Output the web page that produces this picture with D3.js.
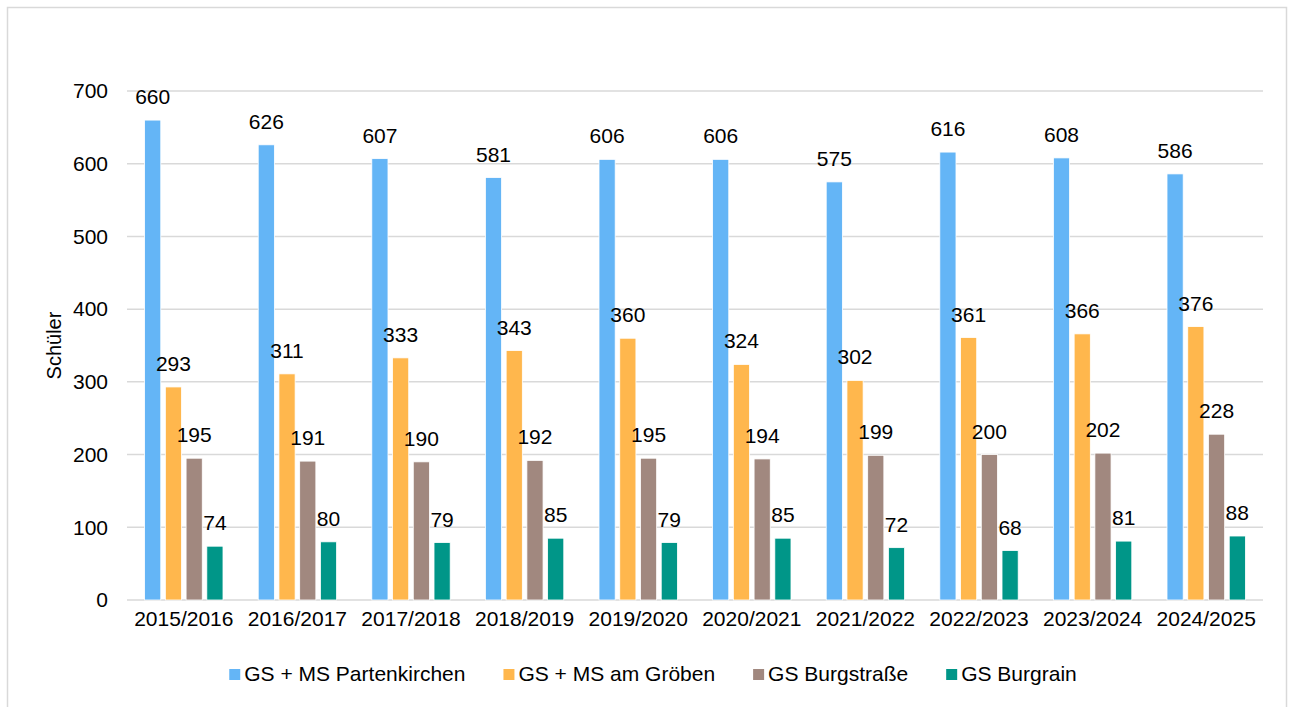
<!DOCTYPE html>
<html><head><meta charset="utf-8">
<script src="https://cdn.jsdelivr.net/npm/d3@7"></script>
<style>body{margin:0;background:#fff}svg{display:block;font-family:"Liberation Sans",Arial,sans-serif}</style>
</head><body>
<svg id="c" width="1293" height="707"></svg>
<script>
const categories = ["2015/2016","2016/2017","2017/2018","2018/2019","2019/2020","2020/2021","2021/2022","2022/2023","2023/2024","2024/2025"];
const seriesNames = ["GS + MS Partenkirchen","GS + MS am Gröben","GS Burgstraße","GS Burgrain"];
const partenkirchen = [660,626,607,581,606,606,575,616,608,586];
const amGroeben = [293,311,333,343,360,324,302,361,366,376];
const burgstrasse = [195,191,190,192,195,194,199,200,202,228];
const burgrain = [74,80,79,85,79,85,72,68,81,88];
const yTicks = [0,100,200,300,400,500,600,700];
const colors = ["#64B5F6","#FFB74D","#A1887F","#009688"];
const yTitle = "Schüler";

const FS = 21;
const series = [partenkirchen, amGroeben, burgstrasse, burgrain];
const svg = d3.select("#c");
const m = {left:127, right:1263, top:91, bottom:600};

svg.append("rect").attr("x",7.5).attr("y",7.5).attr("width",1279).attr("height",720)
  .attr("fill","#fff").attr("stroke","#d9d9d9").attr("stroke-width",1.5);

const x0 = d3.scaleBand().domain(categories).range([m.left,m.right]).paddingInner(0.31).paddingOuter(0.155);
const x1 = d3.scaleBand().domain(d3.range(series.length)).range([0,x0.bandwidth()]).paddingInner(0.22).paddingOuter(0);
const y = d3.scaleLinear().domain([0,700]).range([m.bottom,m.top]);

// gridlines
svg.append("g").selectAll("line").data(yTicks).join("line")
  .attr("x1",m.left).attr("x2",m.right)
  .attr("y1",d=>y(d)).attr("y2",d=>y(d))
  .attr("stroke","#d9d9d9").attr("stroke-width",1.5);

// y axis labels
const yAxis = d3.axisLeft(y).tickValues(yTicks).tickSize(0).tickPadding(0);
const ya = svg.append("g").attr("transform",`translate(${108},0)`).call(yAxis);
ya.select(".domain").remove();
ya.selectAll("text").attr("font-size",FS).attr("fill","#000").attr("font-family","Liberation Sans, Arial, sans-serif");

// x axis labels
const xAxis = d3.axisBottom(x0).tickSize(0).tickPadding(0);
const xa = svg.append("g").attr("transform",`translate(0,${m.bottom+11})`).call(xAxis);
xa.select(".domain").remove();
xa.selectAll("text").attr("font-size",FS).attr("fill","#000").attr("font-family","Liberation Sans, Arial, sans-serif");

// bars
const groups = svg.append("g").selectAll("g").data(categories).join("g")
  .attr("transform",d=>`translate(${x0(d)},0)`);
series.forEach((vals,si)=>{
  groups.append("rect")
    .attr("x",x1(si)).attr("width",x1.bandwidth())
    .attr("y",(d,i)=>y(vals[i])).attr("height",(d,i)=>y(0)-y(vals[i]))
    .attr("fill",colors[si]).attr("stroke","#fff").attr("stroke-width",0.8);
  groups.append("text")
    .attr("x",x1(si)+x1.bandwidth()/2).attr("y",(d,i)=>y(vals[i])-16)
    .attr("text-anchor","middle").attr("font-size",FS).attr("fill","#000")
    .text((d,i)=>vals[i]);
});

// y title
svg.append("text").attr("transform",`translate(61,${(m.top+m.bottom)/2}) rotate(-90)`)
  .attr("text-anchor","middle").attr("font-size",20).attr("fill","#000").text(yTitle);

// legend
const lg = svg.append("g");
const items = lg.selectAll("g").data(seriesNames).join("g");
items.append("rect").attr("width",11).attr("height",11).attr("y",-12).attr("fill",(d,i)=>colors[i]);
items.append("text").attr("x",15).attr("y",0).attr("font-size",FS).attr("fill","#000").text(d=>d);
const widths=[];
items.each(function(){ widths.push(15+this.querySelector("text").getComputedTextLength()); });
const total = d3.sum(widths) + 38*(widths.length-1);
let start = 653 - total/2;
items.attr("transform",(d,i)=>{ const t=`translate(${start},681)`; start += widths[i]+38; return t; });
</script>
</body></html>
